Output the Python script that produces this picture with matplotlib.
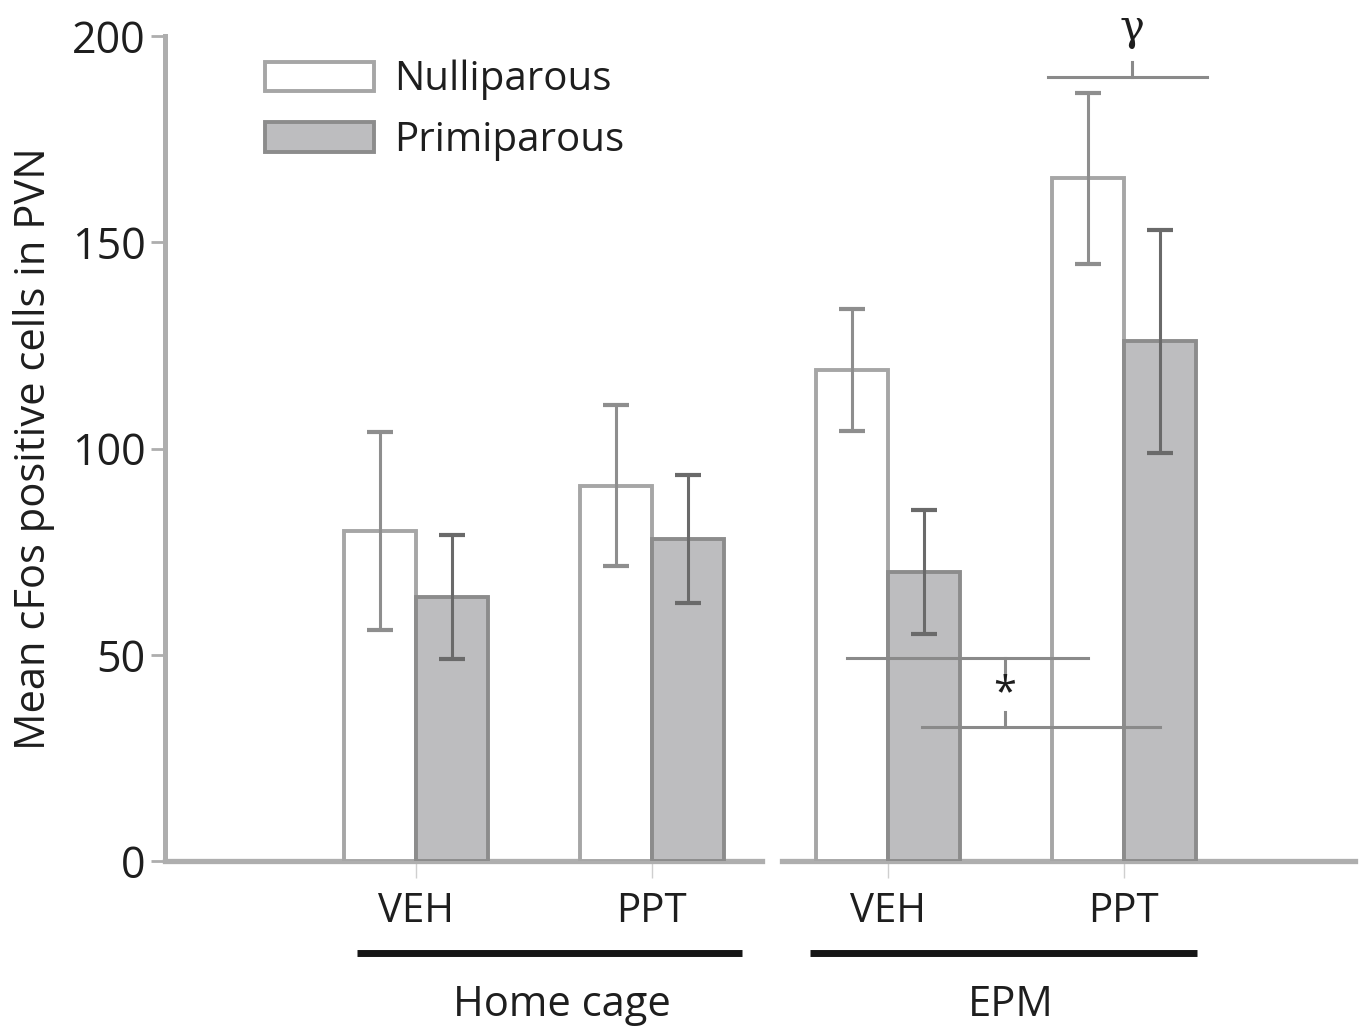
"""
Mean cFos positive cells in PVN - nulliparous vs primiparous,
home cage vs EPM, VEH vs PPT.
"""

import matplotlib
matplotlib.use('Agg')
import matplotlib.pyplot as plt
import matplotlib.transforms as mtransforms
import numpy as np

# Data
conditions = ['VEH', 'PPT', 'VEH', 'PPT']
groups = ['Home cage', 'EPM']
nulliparous = [80, 91, 119, 165.5]
nulliparous_err = [24, 19.5, 14.7, 20.7]
primiparous = [64, 78, 70, 126]
primiparous_err = [15, 15.5, 15, 27]
series_labels = ['Nulliparous', 'Primiparous']

plt.rcParams['font.family'] = ['Open Sans', 'DejaVu Sans']

colors = {
    'nulli_face': 'white',
    'nulli_edge': '#a6a6a6',
    'primi_face': '#bdbdbf',
    'primi_edge': '#8c8c8c',
    'nulli_err': '#8e8e8e',
    'primi_err': '#6a6a6a',
    'axis': '#aeaeae',
    'text': '#1e1e1e',
}

fig = plt.figure(figsize=(13.63, 10.32), dpi=100)
ax = fig.add_axes([0.121, 0.1657, 0.873, 0.7994])

x = np.arange(len(conditions))
width = 0.305

bars_n = ax.bar(x - width / 2, nulliparous, width, color=colors['nulli_face'],
                edgecolor=colors['nulli_edge'], linewidth=2.8,
                label=series_labels[0], zorder=3)
bars_p = ax.bar(x + width / 2, primiparous, width, color=colors['primi_face'],
                edgecolor=colors['primi_edge'], linewidth=2.8,
                label=series_labels[1], zorder=3)

ax.errorbar(x - width / 2, nulliparous, yerr=nulliparous_err, fmt='none',
            ecolor=colors['nulli_err'], elinewidth=2.2, capsize=9.5,
            capthick=3, zorder=4)
ax.errorbar(x + width / 2, primiparous, yerr=primiparous_err, fmt='none',
            ecolor=colors['primi_err'], elinewidth=2.2, capsize=9.5,
            capthick=3, zorder=4)

ax.set_xlim(-1.064, 3.979)
ax.set_ylim(0, 200)
ax.set_yticks([0, 50, 100, 150, 200])
ax.set_xticks(x)
ax.set_xticklabels(conditions)

ax.set_ylabel('Mean cFos positive cells in PVN', fontsize=30,
              color=colors['text'], labelpad=12)

ax.tick_params(axis='y', length=10, width=2, color=colors['axis'],
               labelsize=31, labelcolor=colors['text'], pad=4)
ax.tick_params(axis='x', length=12, width=1, color='#cfcfcf',
               labelsize=29, labelcolor=colors['text'], pad=10)

for side in ['top', 'right', 'bottom']:
    ax.spines[side].set_visible(False)
ax.spines['left'].set_color(colors['axis'])
ax.spines['left'].set_linewidth(3.6)

# broken x axis between the two groups
ax.axhline(0, xmin=0, xmax=0.502, color=colors['axis'], linewidth=3.8,
           zorder=2, clip_on=False)
ax.axhline(0, xmin=0.519, xmax=1, color=colors['axis'], linewidth=3.8,
           zorder=2, clip_on=False)

# group underlines and labels
trans = mtransforms.blended_transform_factory(ax.transData, ax.transAxes)
group_spans = [(x[0] - 0.25, x[1] + 0.38), (x[2] - 0.33, x[3] + 0.31)]
group_label_x = [x[0] + 0.62, x[2] + 0.52]
for (x0, x1), gx, name in zip(group_spans, group_label_x, groups):
    ax.plot([x0, x1], [-0.1115, -0.1115], transform=trans, color='#161616',
            linewidth=5, solid_capstyle='butt', clip_on=False)
    ax.text(gx, -0.175, name, transform=trans, ha='center', va='center',
            fontsize=30, color=colors['text'])

# significance marks
line_kw = dict(color='#8a8a8a', linewidth=2.2, clip_on=False, zorder=5)
ax.plot([x[3] - 0.322, x[3] + 0.352], [190, 190], **line_kw)
ax.plot([x[3] + 0.034, x[3] + 0.034], [190, 193.7], **line_kw)
ax.text(x[3] + 0.034, 202, '\u03b3', ha='center', va='center',
        fontsize=30, color=colors['text'], family=['DejaVu Serif'])

ax.plot([x[1] + 0.826, x[2] + 0.847], [49.2, 49.2], **line_kw)
ax.plot([x[2] + 0.496, x[2] + 0.496], [49.2, 45.8], **line_kw)
ax.plot([x[2] + 0.144, x[3] + 0.153], [32.5, 32.5], **line_kw)
ax.plot([x[2] + 0.496, x[2] + 0.496], [32.5, 36.1], **line_kw)
ax.text(x[2] + 0.496, 40.5, '*', ha='center', va='center', fontsize=30,
        color=colors['text'])

ax.legend(handles=[bars_n, bars_p], loc='upper left',
          bbox_to_anchor=(0.054, 1.015), frameon=False, fontsize=29,
          handlelength=2.7, handleheight=0.75, handletextpad=0.5,
          labelspacing=0.5, labelcolor=colors['text'])

fig.savefig('out.png', dpi=100, facecolor='white')
plt.close(fig)
